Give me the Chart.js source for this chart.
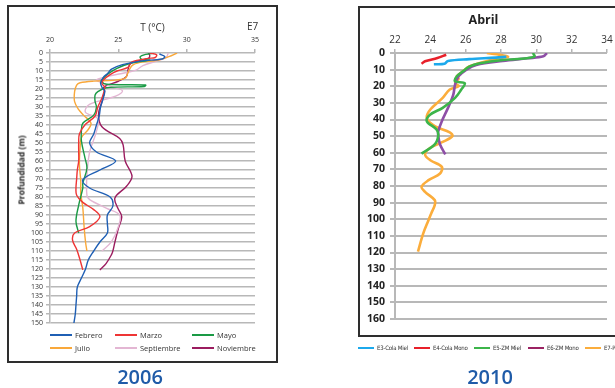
<!DOCTYPE html>
<html>
<head>
<meta charset="utf-8">
<script src="https://cdn.jsdelivr.net/npm/chart.js@4.4.0/dist/chart.umd.min.js"></script>
<style>
  html, body { margin: 0; padding: 0; background: #fff; }
  body { width: 615px; height: 388px; position: relative; overflow: hidden; font-family: "Open Sans", sans-serif; }
  .box { position: absolute; border: 2px solid #2e2e2e; box-sizing: border-box; }
  canvas { position: absolute; }
  .lbl { position: absolute; white-space: nowrap; color: #333; }
  .leg { position: absolute; white-space: nowrap; color: #333; }
  .leg i { position: absolute; left: 0; display: block; }
  .year { position: absolute; font-weight: 600; font-size: 20px; color: #1f5ba8; transform: translate(-50%, -50%); }
</style>
</head>
<body>
<div class="box" style="left:7px;top:5px;width:271px;height:358px"></div>
<canvas id="c2006" width="266" height="353" style="left:9px;top:7px"></canvas>
<div class="lbl" style="left:247px;top:19px;font-size:10px">E7</div>
<div class="lbl" style="left:21px;top:170px;font-size:8.5px;font-weight:700;color:#222;transform:translate(-50%,-50%) rotate(-90deg)">Profundidad (m)</div>
<div id="leg2006"></div>
<div class="year" style="left:140px;top:376px">2006</div>

<div class="box" style="left:358px;top:6px;width:280px;height:331px"></div>
<canvas id="c2010" width="272" height="327" style="left:360px;top:8px"></canvas>
<div id="leg2010"></div>
<div class="year" style="left:490px;top:376px">2010</div>

<script>
// ---- 2006: temperature (°C) vs depth (m), one profile per month ----
const months2006 = ['Febrero', 'Marzo', 'Mayo', 'Julio', 'Septiembre', 'Noviembre'];
const colors2006 = ['#1f5fb4', '#ee3535', '#1a9a45', '#f9a83a', '#e3b6d3', '#9b1c5f'];

const febrero = [[28.0,0.5],[28.4,2],[28.2,3.3],[26.6,4.5],[25.3,6.5],[24.5,9],[24.2,11.5],[23.9,13.5],[23.7,16.5],[23.8,19],[24.0,21],[23.9,25],[23.7,30],[23.6,35],[23.4,40],[23.2,45],[22.9,50],[23.4,55],[24.8,60],[23.65,65],[22.4,70.5],[22.9,75],[24.4,80],[24.6,85],[24.2,90],[24.2,95],[24.2,100],[23.65,105],[23.2,110],[22.8,115],[22.6,120],[22.3,125],[22.0,130],[21.95,135],[21.9,140],[21.85,145],[21.75,150]];
const marzo = [[27.3,0],[27.8,1],[27.7,2.5],[27.2,3],[26.0,5],[25.7,8],[24.9,10],[24.4,12],[23.9,15],[23.8,17],[24.0,19],[23.8,25],[23.5,30],[23.3,35],[22.55,40],[22.15,45],[22.1,50],[22.1,55],[22.1,60],[22.0,65],[21.95,70],[21.9,75],[21.95,79],[22.4,83],[23.2,87],[23.65,91],[22.9,96.5],[21.8,100],[21.65,104],[21.95,109],[22.2,115],[22.4,120.5]];
const mayo = [[27.6,0],[27.0,0.8],[26.6,2],[26.7,3.5],[27.3,4],[25.9,5.7],[24.9,8.5],[24.3,11.3],[23.9,14],[23.8,16],[24.15,17.4],[27.0,17.8],[26.9,18.6],[24.1,19.3],[23.5,21.5],[23.3,23.3],[23.3,27],[23.4,30],[23.2,34.5],[22.4,39],[22.3,43],[22.3,49],[22.55,58],[22.7,64],[22.4,72.5],[22.4,75],[22.1,84.5],[21.9,93.5],[22.1,100]];
const julio = [[29.3,0],[28.7,2],[27.9,4],[26.6,5.2],[26.0,7],[25.7,11],[25.5,14],[24.6,15.2],[23.2,15.6],[22.2,16.5],[21.95,17.8],[21.8,21.5],[21.8,27],[22.1,31.5],[22.45,34.5],[23.0,39],[22.8,42.5],[22.3,47],[22.2,53],[22.15,62],[22.25,71],[22.25,78],[22.4,86],[22.5,97],[22.6,105],[22.7,110]];
const septiembre = [[28.65,0],[28.5,2.5],[27.8,4.5],[26.8,7],[26.3,9.5],[25.5,11],[24.2,13],[23.4,15],[23.8,16.5],[24.6,19],[25.3,21],[24.8,24],[23.9,26],[22.8,29],[22.6,33],[23.5,36.5],[23.4,43.5],[22.9,55],[22.7,68],[22.7,79],[22.9,81.5],[24.15,86.3],[25.1,90],[25.0,96.5],[24.5,104.8],[23.8,110]];
const noviembre = [[27.2,0],[27.3,1.5],[27.2,3],[25.9,5.7],[25.7,9.5],[25.6,13],[25.0,15.7],[24.15,18],[23.9,19.5],[24.0,21.2],[23.8,27],[23.55,34],[23.8,41],[25.1,47.5],[25.35,51],[25.5,60],[26.0,68.5],[25.6,74],[24.75,80.5],[24.95,86],[25.25,91],[25.0,97.5],[24.75,105],[24.6,110],[24.5,112],[24.1,117],[23.65,120.5]];
const profiles2006 = [febrero, marzo, mayo, julio, septiembre, noviembre];

const tempTicks2006 = [20, 25, 30, 35];
const depthMax2006 = 150;

// ---- 2010 (Abril): one profile per station ----
const stations2010 = ['E3-Cola Miel', 'E4-Cola Mono', 'E5-ZM Miel', 'E6-ZM Mono', 'E7-Profundo'];
const colors2010 = ['#1ca9ec', '#e8202a', '#3cb54a', '#8e4fa6', '#fbad3c'];
const legendColors2010 = ['#1ca9ec', '#e8202a', '#3cb54a', '#9b2363', '#fbad3c'];

const e3 = [[28.3,2.3],[27.7,2.8],[26.2,3.7],[25.0,4.8],[24.8,6.5],[24.2,6.8]];
const e4 = [[24.9,1],[24.4,3],[23.7,5],[23.5,6.5]];
const e5 = [[29.8,0],[29.9,2],[29.45,3.2],[28.1,4.2],[26.8,6.2],[26.2,8.2],[25.85,11],[25.5,14],[25.4,17],[25.95,18.2],[25.75,22],[25.4,27],[24.7,33],[24.0,37],[23.8,41],[24.35,46],[24.45,49.5],[24.25,55],[23.5,60.5]];
const e6 = [[30.6,0],[30.4,2],[29.5,3.2],[28.1,4.8],[26.6,7.2],[26.05,10],[25.6,14],[25.4,19],[25.3,25],[25.0,33],[24.65,41],[24.45,47],[24.45,50],[24.55,55],[24.85,61]];
const e7 = [[27.2,0],[27.75,0.8],[28.4,2.2],[27.85,3.2],[26.8,6],[26.2,8],[25.85,11],[25.5,14],[25.6,15.5],[25.4,18],[25.6,20],[25.1,22],[24.7,27],[24.0,34],[23.8,39],[24.25,44],[25.1,47.7],[25.25,50],[24.7,53.5],[24.0,57],[23.7,61],[24.0,64.5],[24.65,68.5],[24.55,72.5],[23.9,76.5],[23.5,80.5],[23.7,83.5],[24.25,88.5],[24.25,91.5],[24.05,96.5],[23.9,100.5],[23.6,108.5],[23.3,119.5]];
const profiles2010 = [e3, e4, e5, e6, e7];

const tempMin2010 = 22, tempMax2010 = 34;
const depthMax2010 = 160;

const toPoints = arr => arr.map(([t, d]) => ({ x: t, y: d }));

// 2006 chart
new Chart(document.getElementById('c2006'), {
  type: 'scatter',
  data: {
    datasets: profiles2006.map((p, i) => ({
      label: months2006[i], data: toPoints(p), showLine: true,
      borderColor: colors2006[i], backgroundColor: colors2006[i],
      borderWidth: 1.4, pointRadius: 0, tension: 0.35, fill: false
    }))
  },
  options: {
    responsive: false, animation: false, devicePixelRatio: 1,
    layout: { padding: { left: 0, top: 0, right: 20, bottom: 37 } },
    plugins: { legend: { display: false }, tooltip: { enabled: false } },
    scales: {
      x: {
        type: 'linear', position: 'top', min: tempTicks2006[0], max: tempTicks2006[tempTicks2006.length - 1],
        afterBuildTicks: s => { s.ticks = tempTicks2006.map(v => ({ value: v })); },
        ticks: { padding: 5, font: { size: 7, family: 'Open Sans' }, color: '#333' },
        grid: { drawOnChartArea: false, drawTicks: true, tickLength: 4, color: '#b5b5b5', lineWidth: 1.5 },
        border: { display: false },
        title: { display: true, text: 'T (°C)', font: { size: 10, family: 'Open Sans' }, color: '#333', padding: { top: 15, bottom: 0 } },
        afterFit: s => { s.height = 46; }
      },
      y: {
        type: 'linear', reverse: true, min: 0, max: depthMax2006,
        ticks: { stepSize: 5, autoSkip: false, padding: 3, font: { size: 7, family: 'Open Sans' }, color: '#333' },
        grid: { color: '#b8b8b8', lineWidth: 1.5, tickLength: 4 },
        border: { display: true, color: '#b8b8b8', width: 1.5 },
        afterFit: s => { s.width = 41; }
      }
    }
  }
});

// 2010 chart
new Chart(document.getElementById('c2010'), {
  type: 'scatter',
  data: {
    datasets: profiles2010.map((p, i) => ({
      label: stations2010[i], data: toPoints(p), showLine: true,
      borderColor: colors2010[i], backgroundColor: colors2010[i],
      borderWidth: 2.6, pointRadius: 0, tension: 0.35, fill: false
    }))
  },
  options: {
    responsive: false, animation: false, devicePixelRatio: 1,
    layout: { padding: { left: 0, top: 0, right: 25, bottom: 16 } },
    plugins: {
      legend: { display: false }, tooltip: { enabled: false },
      title: { display: true, text: 'Abril', color: '#222', font: { size: 12.5, weight: 'bold', family: 'Open Sans', lineHeight: 1.12 }, padding: { top: 5, bottom: 0 } }
    },
    scales: {
      x: {
        type: 'linear', position: 'top', min: tempMin2010, max: tempMax2010,
        ticks: { stepSize: 2, padding: 3, font: { size: 10, family: 'Open Sans' }, color: '#333' },
        grid: { drawOnChartArea: false, drawTicks: true, tickLength: 4, color: '#b5b5b5', lineWidth: 1.5 },
        border: { display: false },
        afterFit: s => { s.height = 26; }
      },
      y: {
        type: 'linear', reverse: true, min: 0, max: depthMax2010,
        ticks: { stepSize: 10, autoSkip: false, padding: 5, font: { size: 10.5, weight: 'bold', family: 'Open Sans' }, color: '#222' },
        grid: { color: '#b8b8b8', lineWidth: 2, tickLength: 5 },
        border: { display: true, color: '#b8b8b8', width: 2 },
        afterFit: s => { s.width = 35; }
      }
    }
  }
});

// Legends
function buildLegend(id, names, cols, spots, lineW, lineH, fontSize, extraStyle) {
  const host = document.getElementById(id);
  names.forEach((n, i) => {
    const [x, y] = spots[i];
    const el = document.createElement('div');
    el.className = 'leg';
    el.style.left = x + 'px';
    el.style.top = (y - fontSize * 0.7) + 'px';
    el.style.fontSize = fontSize + 'px';
    el.style.lineHeight = (fontSize * 1.4) + 'px';
    el.style.paddingLeft = (lineW + 3) + 'px';
    if (extraStyle) el.style.cssText += extraStyle;
    const sw = document.createElement('i');
    sw.style.width = lineW + 'px';
    sw.style.height = lineH + 'px';
    sw.style.background = cols[i];
    sw.style.top = (fontSize * 0.7 - lineH / 2) + 'px';
    el.appendChild(sw);
    el.appendChild(document.createTextNode(n));
    host.appendChild(el);
  });
}
buildLegend('leg2006', months2006, colors2006,
  [[50,335],[115,335],[192,335],[50,348],[115,348],[192,348]], 22, 1.6, 7.5, '');
buildLegend('leg2010', stations2010, legendColors2010,
  [[358,348],[414,348],[474,348],[528,348],[585,348]], 16, 2, 6, 'font-family:"DejaVu Sans Condensed","DejaVu Sans";letter-spacing:-0.2px;');
</script>
</body>
</html>
